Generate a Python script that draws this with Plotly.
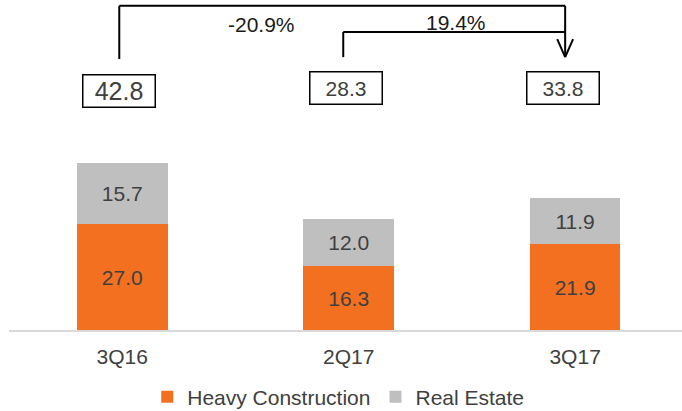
import plotly.graph_objects as go

# ---- data ----
categories = ["3Q16", "2Q17", "3Q17"]
heavy_construction = [27.0, 16.3, 21.9]
real_estate = [15.7, 12.0, 11.9]
totals = [42.8, 28.3, 33.8]
total_font_sizes = [25, 21, 21]
change_labels = ["-20.9%", "19.4%"]

# ---- style ----
ORANGE = "#F37021"
GREY = "#BFBFBF"
TEXT = "#404040"
FONT = "Liberation Sans, Arial, sans-serif"

fig = go.Figure()
fig.add_bar(
    x=categories, y=heavy_construction, name="Heavy Construction",
    marker=dict(color=ORANGE, line=dict(width=0)), width=0.4,
    texttemplate="%{y:.1f}", textposition="inside", insidetextanchor="middle",
    textangle=0, textfont=dict(size=21, color=TEXT),
)
fig.add_bar(
    x=categories, y=real_estate, name="Real Estate",
    marker=dict(color=GREY, line=dict(width=0)), width=0.4,
    texttemplate="%{y:.1f}", textposition="inside", insidetextanchor="middle",
    textangle=0, textfont=dict(size=21, color=TEXT),
)

fig.update_layout(
    barmode="stack",
    width=682, height=411,
    margin=dict(l=9, r=0, t=0, b=81, autoexpand=False),
    plot_bgcolor="white", paper_bgcolor="white",
    font=dict(family=FONT, color=TEXT, size=21),
    showlegend=True,
    legend=dict(
        orientation="h", xanchor="left", x=0.2054,
        yref="container", yanchor="middle", y=0.034,
        font=dict(size=21, color=TEXT), traceorder="normal",
        bgcolor="rgba(0,0,0,0)", itemwidth=30,
    ),
)
fig.update_xaxes(
    type="category", range=[-0.5, 2.472],
    showline=True, linecolor="#D9D9D9", linewidth=2,
    showgrid=False, zeroline=False, ticks="",
    tickfont=dict(size=21, color=TEXT, family=FONT), ticklabelstandoff=7,
)
fig.update_yaxes(range=[0, 84.4], visible=False, showgrid=False, zeroline=False)

# ---- total boxes ----
box_dx = [-0.013, -0.011, -0.053]
box_y = [61.1, 62.0, 62.0]
for i, tot in enumerate(totals):
    fig.add_annotation(
        x=i + box_dx[i], y=box_y[i], xref="x", yref="y",
        text=f"{tot:.1f}", showarrow=False,
        font=dict(size=total_font_sizes[i], color=TEXT, family=FONT),
        bordercolor="black", borderwidth=1.5, borderpad=0,
        width=71, height=31, bgcolor="white",
    )

# ---- bracket arrows ----
x_a, x_b, x_c = -0.013, 0.976, 1.956
y_top1, y_start1 = 82.9, 69.3
y_top2, y_start2 = 76.2, 69.8
y_tip, y_arm, arm_dx = 69.8, 74.4, 0.035
line = dict(color="black", width=2)
segs = [
    (x_a, y_start1, x_a, y_top1), (x_a, y_top1, x_c, y_top1), (x_c, y_top1, x_c, y_tip),
    (x_b, y_start2, x_b, y_top2), (x_b, y_top2, x_c, y_top2),
    (x_c - arm_dx, y_arm, x_c, y_tip), (x_c + arm_dx, y_arm, x_c, y_tip),
]
for x0, y0, x1, y1 in segs:
    fig.add_shape(type="line", xref="x", yref="y", x0=x0, y0=y0, x1=x1, y1=y1, line=line)

fig.add_annotation(x=0.614, y=78.1, xref="x", yref="y", text=change_labels[0],
                   showarrow=False, font=dict(size=21, color="#1a1a1a", family=FONT))
fig.add_annotation(x=1.475, y=78.6, xref="x", yref="y", text=change_labels[1],
                   showarrow=False, font=dict(size=21, color="#1a1a1a", family=FONT))

fig.write_html("out.html")
